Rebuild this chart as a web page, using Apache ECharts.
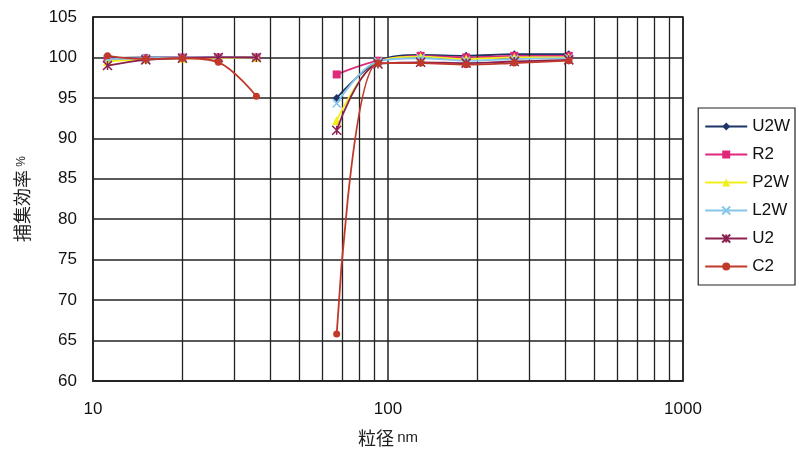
<!DOCTYPE html>
<html>
<head>
<meta charset="utf-8">
<script src="https://cdn.jsdelivr.net/npm/echarts@6/dist/echarts.min.js"></script>
<style>
  html, body { margin: 0; padding: 0; background: #fff; }
  #chart { width: 799px; height: 453px; }
</style>
</head>
<body>
<div id="chart"></div>
<script>
// particle sizes (nm), two measurement ranges
const sizesA = [11.2, 15.1, 20.1, 26.6, 35.8]
const sizesB = [67, 92.5, 129, 184, 268, 410]

const seriesNames = ['U2W', 'R2', 'P2W', 'L2W', 'U2', 'C2']

// collection efficiency (%)
const u2wA = [99.9, 100, 100, 100, 100]
const u2wB = [95.0, 99.5, 100.3, 100.2, 100.4, 100.4]
const r2A = [99.8, 99.9, 100, 100, 100]
const r2B = [97.9, 99.6, 100.2, 100.0, 100.2, 100.2]
const p2wA = [99.5, 99.8, 99.9, 99.9, 100]
const p2wB = [92.2, 99.4, 100.1, 99.8, 100.0, 100.0]
const l2wA = [99.8, 99.9, 100, 100, 100]
const l2wB = [94.3, 99.5, 99.9, 99.6, 99.8, 99.9]
const u2A = [99.0, 99.7, 99.9, 100.0, 100.0]
const u2B = [91.0, 99.2, 99.4, 99.3, 99.5, 99.7]
const c2A = [100.2, 99.8, 99.9, 99.4, 95.2]
const c2B = [65.8, 99.3, 99.3, 99.1, 99.3, 99.6]

const yTicks = [60, 65, 70, 75, 80, 85, 90, 95, 100, 105]
const minorX = [20, 30, 40, 50, 60, 70, 80, 90, 200, 300, 400, 500, 600, 700, 800, 900]

const colors = ['#1d3466', '#e0287a', '#f2ee1a', '#86c6ea', '#8a2050', '#c0392b']
const xMark = 'path://M0,0L10,10M10,0L0,10'
const starMark = 'path://M0,0L10,10M10,0L0,10M5,0L5,10'
const symbols = ['diamond', 'rect', 'triangle', xMark, starMark, 'circle']
const sizes = [8, 8, 9, 8, 9, 7]

const build = (a, b) => {
  const d = sizesA.map((x, i) => [x, a[i]])
  d.push([sizesB[0], '-'])
  return d.concat(sizesB.map((x, i) => [x, b[i]]))
}

const allData = [
  build(u2wA, u2wB),
  build(r2A, r2B),
  build(p2wA, p2wB),
  build(l2wA, l2wB),
  build(u2A, u2B),
  build(c2A, c2B)
]

const chart = echarts.init(document.getElementById('chart'))

const lineSeries = seriesNames.map((name, i) => ({
  name,
  type: 'line',
  data: allData[i],
  smooth: 0.35,
  connectNulls: false,
  symbol: symbols[i],
  symbolSize: sizes[i],
  showAllSymbol: true,
  lineStyle: { color: colors[i], width: 1.8 },
  itemStyle: {
    color: colors[i],
    borderColor: colors[i],
    borderWidth: (i === 3 || i === 4) ? 1.5 : 0
  },
  z: 3 + i
}))

chart.setOption({
  animation: false,
  textStyle: { fontFamily: 'Liberation Sans, Arial, sans-serif' },
  grid: {
    left: 93, right: 116, top: 17, bottom: 72,
    show: true, borderColor: '#222', borderWidth: 1.5
  },
  legend: {
    orient: 'vertical',
    right: 4,
    top: 108,
    data: seriesNames,
    itemWidth: 42,
    itemHeight: 10,
    itemGap: 11,
    padding: [10, 5, 10, 6],
    borderColor: '#222',
    borderWidth: 1.2,
    backgroundColor: '#fff',
    textStyle: { fontSize: 17, color: '#111', fontFamily: 'Liberation Sans, Arial, sans-serif' }
  },
  xAxis: {
    type: 'log',
    logBase: 10,
    min: 10,
    max: 1000,
    name: '{a|粒径} {b|nm}',
    nameLocation: 'middle',
    nameGap: 48,
    nameTextStyle: {
      rich: {
        a: { fontSize: 18, color: '#222', fontFamily: 'Noto Sans CJK JP' },
        b: { fontSize: 15, color: '#222' }
      }
    },
    axisLine: { lineStyle: { color: '#222', width: 1.5 } },
    axisTick: { show: false },
    axisLabel: { fontSize: 17, color: '#111', margin: 20, formatter: v => String(v) },
    splitLine: { show: true, lineStyle: { color: '#222', width: 1.5 } }
  },
  yAxis: {
    type: 'value',
    min: yTicks[0],
    max: yTicks[yTicks.length - 1],
    interval: 5,
    name: '{a|捕集効率} {b|%}',
    nameLocation: 'middle',
    nameGap: 62,
    nameRotate: 90,
    nameTextStyle: {
      rich: {
        a: { fontSize: 18, color: '#222', fontFamily: 'Noto Sans CJK JP' },
        b: { fontSize: 12, color: '#222' }
      }
    },
    axisLine: { show: true, lineStyle: { color: '#222', width: 1.5 } },
    axisTick: { show: false },
    axisLabel: { fontSize: 17, color: '#111', margin: 16 },
    splitLine: { show: true, lineStyle: { color: '#222', width: 1.5 } }
  },
  series: [
    {
      type: 'line',
      data: [],
      silent: true,
      markLine: {
        silent: true,
        symbol: 'none',
        label: { show: false },
        lineStyle: { color: '#222', width: 1.3, type: 'solid' },
        data: minorX.map(v => ({ xAxis: v }))
      },
      z: 1
    },
    ...lineSeries
  ]
})
</script>
</body>
</html>
